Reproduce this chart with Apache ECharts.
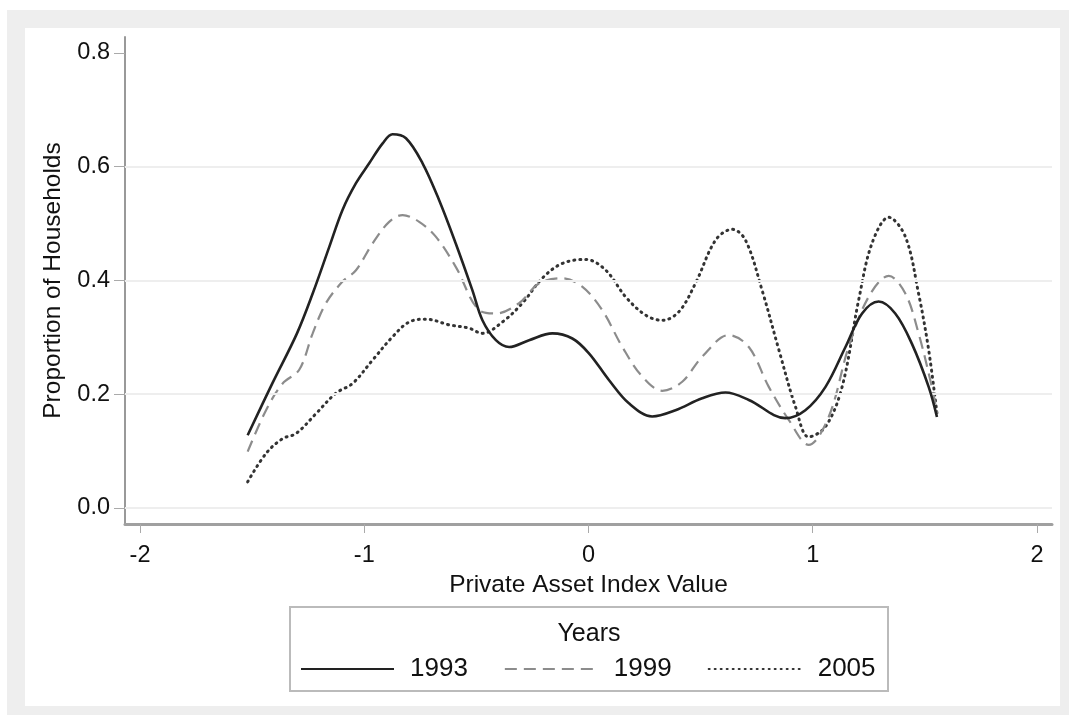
<!DOCTYPE html>
<html>
<head>
<meta charset="utf-8">
<script src="https://cdn.jsdelivr.net/npm/echarts@6.0.0/dist/echarts.min.js"></script>
<style>
  html, body { margin: 0; padding: 0; background: #ffffff; }
  #frame { position: absolute; left: 7px; top: 10px; width: 1062px; height: 705px; background: #eeeeee; }
  #panel { position: absolute; left: 25px; top: 28px; width: 1035px; height: 678px; background: #ffffff; }
  #chart { position: absolute; left: 0; top: 0; width: 1069px; height: 715px; }
</style>
</head>
<body>
<div id="frame"></div>
<div id="panel"></div>
<div id="chart"></div>
<script>
// ---- data ----
const seriesNames = ['1993', '1999', '2005'];

const x1993 = [-1.52,-1.41,-1.30,-1.23,-1.156,-1.097,-1.037,-0.978,-0.918,-0.874,-0.814,-0.74,-0.666,-0.592,-0.518,-0.473,-0.413,-0.354,-0.265,-0.161,-0.072,0.002,0.091,0.18,0.284,0.388,0.507,0.611,0.715,0.878,0.967,1.057,1.146,1.22,1.294,1.368,1.442,1.517,1.554];
const y1993 = [0.128,0.219,0.307,0.377,0.459,0.524,0.571,0.606,0.641,0.657,0.650,0.606,0.541,0.465,0.383,0.330,0.295,0.283,0.295,0.307,0.298,0.272,0.225,0.184,0.161,0.172,0.193,0.203,0.190,0.158,0.172,0.213,0.283,0.342,0.363,0.342,0.289,0.213,0.160];

const x1999 = [-1.52,-1.438,-1.364,-1.29,-1.23,-1.171,-1.097,-1.037,-0.963,-0.889,-0.829,-0.755,-0.681,-0.592,-0.488,-0.413,-0.31,-0.22,-0.117,-0.028,0.061,0.151,0.24,0.329,0.418,0.507,0.626,0.715,0.804,0.893,0.982,1.071,1.16,1.249,1.339,1.413,1.472,1.531,1.554];
const y1999 = [0.099,0.172,0.219,0.243,0.307,0.360,0.398,0.418,0.465,0.503,0.515,0.503,0.477,0.424,0.348,0.342,0.360,0.395,0.404,0.389,0.348,0.283,0.231,0.206,0.222,0.266,0.304,0.283,0.213,0.155,0.111,0.160,0.283,0.371,0.408,0.377,0.307,0.213,0.166];

const x2005 = [-1.52,-1.438,-1.364,-1.304,-1.215,-1.126,-1.052,-0.963,-0.874,-0.8,-0.725,-0.621,-0.532,-0.473,-0.384,-0.295,-0.206,-0.117,-0.012,0.077,0.166,0.255,0.329,0.403,0.477,0.567,0.641,0.7,0.774,0.849,0.923,0.982,1.057,1.131,1.205,1.264,1.339,1.413,1.472,1.517,1.554];
const y2005 = [0.046,0.096,0.122,0.131,0.166,0.202,0.219,0.260,0.301,0.327,0.332,0.322,0.316,0.307,0.327,0.360,0.404,0.430,0.437,0.418,0.371,0.339,0.330,0.345,0.395,0.471,0.490,0.471,0.383,0.278,0.178,0.125,0.143,0.213,0.366,0.465,0.511,0.477,0.377,0.278,0.166];

const xTicks = [-2, -1, 0, 1, 2];
const yTicks = [0, 0.2, 0.4, 0.6, 0.8];
const yGridLines = [0, 0.2, 0.4, 0.6];

// ---- build ----
function pairs(xs, ys) { return xs.map((x, i) => [x, ys[i]]); }

const chart = echarts.init(document.getElementById('chart'), null, { renderer: 'canvas' });
const FONT = '"Liberation Sans", Arial, Helvetica, sans-serif';
const TXT = '#111111';

const option = {
  animation: false,
  backgroundColor: 'transparent',
  textStyle: { fontFamily: FONT },
  grid: { left: 125, right: 17, top: 37, bottom: 191, containLabel: false },
  xAxis: {
    type: 'value',
    min: -2.067, max: 2.067,
    name: 'Private Asset Index Value',
    nameLocation: 'middle',
    nameGap: 46,
    nameTextStyle: { fontSize: 24.5, color: TXT, fontFamily: FONT },
    axisLine: { show: true, onZero: false, lineStyle: { color: '#a0a0a0', width: 3 } },
    axisTick: { show: true, length: 9, customValues: xTicks, lineStyle: { color: '#aaaaaa', width: 1 } },
    axisLabel: { customValues: xTicks, margin: 20, fontSize: 23.5, color: TXT, fontFamily: FONT,
                 formatter: v => String(v) },
    splitLine: { show: false }
  },
  yAxis: {
    type: 'value',
    min: -0.0281, max: 0.828,
    name: 'Proportion of Households',
    nameLocation: 'middle',
    nameGap: 59,
    nameTextStyle: { fontSize: 24.5, color: TXT, fontFamily: FONT },
    axisLine: { show: true, onZero: false, lineStyle: { color: '#999999', width: 2 } },
    axisTick: { show: true, length: 11, customValues: yTicks, lineStyle: { color: '#aaaaaa', width: 1 } },
    axisLabel: { customValues: yTicks, margin: 15, fontSize: 23.5, color: TXT, fontFamily: FONT,
                 formatter: v => Number(v).toFixed(1) },
    splitLine: { show: false }
  },
  legend: {
    data: seriesNames,
    left: 295, top: 651,
    orient: 'horizontal',
    itemWidth: 93, itemHeight: 14,
    itemGap: 36,
    itemStyle: { color: 'transparent', borderColor: 'transparent', borderWidth: 0, opacity: 0 },
    textStyle: { fontSize: 26, color: TXT, fontFamily: FONT, padding: [0, 0, 0, 11] },
    selectedMode: false
  },
  graphic: [
    { type: 'rect', shape: { x: 290, y: 607, width: 598, height: 84 },
      style: { fill: 'none', stroke: '#bbbbbb', lineWidth: 2 }, silent: true },
    { type: 'text', x: 589, y: 634,
      style: { text: 'Years', fontSize: 25, fill: TXT, fontFamily: FONT, align: 'center', verticalAlign: 'middle' },
      silent: true }
  ],
  series: [
    {
      type: 'line', name: 'gridlines', z: 1, silent: true, data: [],
      markLine: {
        silent: true, symbol: 'none', animation: false,
        label: { show: false },
        lineStyle: { color: '#eeeeee', width: 2, type: 'solid' },
        data: yGridLines.map(v => ({ yAxis: v }))
      }
    },
    {
      type: 'line', name: '1993', z: 5, smooth: 0.35, symbol: 'none', showSymbol: false,
      lineStyle: { color: '#222222', width: 2.6, type: 'solid' },
      itemStyle: { color: '#222222' },
      data: pairs(x1993, y1993)
    },
    {
      type: 'line', name: '1999', z: 4, smooth: 0.35, symbol: 'none', showSymbol: false,
      lineStyle: { color: '#8c8c8c', width: 2.2, type: [12, 7] },
      itemStyle: { color: '#8c8c8c' },
      data: pairs(x1999, y1999)
    },
    {
      type: 'line', name: '2005', z: 3, smooth: 0.35, symbol: 'none', showSymbol: false,
      lineStyle: { color: '#333333', width: 3, type: [1, 5], cap: 'round' },
      itemStyle: { color: '#333333' },
      data: pairs(x2005, y2005)
    }
  ]
};
chart.setOption(option);
</script>
</body>
</html>
